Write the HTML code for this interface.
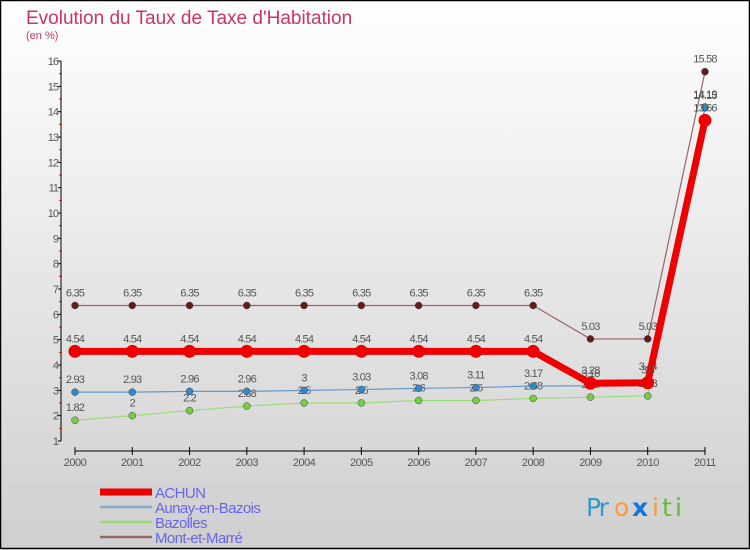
<!DOCTYPE html>
<html><head><meta charset="utf-8">
<style>
html,body{margin:0;padding:0;}
body{width:750px;height:550px;overflow:hidden;font-family:"Liberation Sans",sans-serif;}
svg{display:block;}
</style></head>
<body>
<svg id="chart" width="750" height="550" xmlns="http://www.w3.org/2000/svg">
<defs>
<linearGradient id="bg" x1="0" y1="0" x2="0" y2="1">
<stop offset="0" stop-color="#ffffff"/><stop offset="1" stop-color="#cfcfcf"/>
</linearGradient>
</defs>
<rect x="0.5" y="0.5" width="749" height="548" fill="url(#bg)" stroke="#000" stroke-width="1.5"/>
<text x="26" y="24" font-size="19" fill="#cc3366">Evolution du Taux de Taxe d'Habitation</text>
<text x="26" y="39" font-size="11" fill="#cc3366">(en %)</text>
<g id="axes"></g>
<g id="series"></g>
<g id="legend"></g>
<g font-size="25" font-family="'DejaVu Sans',sans-serif">
<text x="586" y="516" fill="#3399cc" letter-spacing="-2">Pr</text><text x="614" y="516" fill="#ff9933">o</text><text x="632" y="516" fill="#1177dd" font-weight="bold">x</text><text x="652" y="516" fill="#ff9933">i</text><text x="662" y="516" fill="#66bb33">t</text><text x="675" y="516" fill="#66bb33">i</text>
</g>
</svg>
<script>
const years=["2000","2001","2002","2003","2004","2005","2006","2007","2008","2009","2010","2011"];
const yTicks=[1,2,3,4,5,6,7,8,9,10,11,12,13,14,15,16];
const achun=[4.54,4.54,4.54,4.54,4.54,4.54,4.54,4.54,4.54,3.28,3.3,13.66];
const aunay=[2.93,2.93,2.96,2.96,3,3.03,3.08,3.11,3.17,3.18,3.44,14.15];
const bazolles=[1.82,2,2.2,2.38,2.5,2.5,2.6,2.6,2.68,2.73,2.78,14.19];
const mont=[6.35,6.35,6.35,6.35,6.35,6.35,6.35,6.35,6.35,5.03,5.03,15.58];
const seriesNames=["ACHUN","Aunay-en-Bazois","Bazolles","Mont-et-Marré"];

const NS="http://www.w3.org/2000/svg";
const x=i=>75+i*57.27;
const y=v=>441-(v-1)*25.33;
function mk(tag,attrs,parent){const e=document.createElementNS(NS,tag);for(const k in attrs)e.setAttribute(k,attrs[k]);parent.appendChild(e);return e;}
const axes=document.getElementById('axes');
let e=mk('line',{x1:61,y1:y(16),x2:61,y2:y(1),stroke:'#000','stroke-width':1},axes);


yTicks.forEach(t=>{
 let l=mk('line',{x1:58,y1:y(t),x2:61,y2:y(t),stroke:'#000'},axes);
 
 
 if(t<16){
 let h=mk('line',{x1:59,y1:y(t+0.5),x2:62,y2:y(t+0.5),stroke:'#e00'},axes);
 
 }
 let tx=mk('text',{x:58,y:y(t)+4,'text-anchor':'end','font-size':11,fill:'#555','letter-spacing':'-1'},axes);
 tx.textContent=t;
 
 
});
e=mk('line',{x1:x(0),y1:451,x2:x(11),y2:451,stroke:'#000','stroke-width':1},axes);


years.forEach((yr,i)=>{
 let l=mk('line',{x1:x(i),y1:447,x2:x(i),y2:455,stroke:'#000'},axes);
 
 
 let tx=mk('text',{x:x(i),y:466,'text-anchor':'middle','font-size':11,fill:'#555','letter-spacing':'-0.5'},axes);
 tx.textContent=yr;
 
 
});
const sg=document.getElementById('series');
const defs=[
 {d:mont,c:'#996666',m:'#661a1a',w:1.2,r:3.5,n:'mont-et-marre'},
 {d:bazolles,c:'#99dd77',m:'#77cc44',w:1.2,r:3.5,n:'bazolles'},
 {d:aunay,c:'#6699cc',m:'#3388cc',w:1.2,r:3.5,n:'aunay-en-bazois'},
 {d:achun,c:'#ee0000',m:'#ee0000',w:7,r:6.5,n:'achun'}
];
defs.forEach(s=>{
 let p=mk('polyline',{points:s.d.map((v,i)=>x(i)+','+y(v)).join(' '),fill:'none',stroke:s.c,'stroke-width':s.w,'stroke-linejoin':'round'},sg);
 
 
 s.d.forEach((v,i)=>{
  let c=mk('circle',{cx:x(i),cy:y(v),r:s.r,fill:s.m,stroke:'#444','stroke-width':s.r>5?0:0.5},sg);
  
  
  let t=mk('text',{x:x(i),y:y(v)-9,'text-anchor':'middle','font-size':11,fill:'#555','letter-spacing':'-0.8'},sg);
  t.textContent=v;
  
  
 });
});
const lg=document.getElementById('legend');
const lc=['#ee0000','#88aacc','#99dd77','#996666'];
const lw=[7,2.5,2.5,2.5];
seriesNames.forEach((n,i)=>{
 const yy=492+i*15;
 let l=mk('line',{x1:100,y1:yy,x2:152,y2:yy,stroke:lc[i],'stroke-width':lw[i]},lg);
 
 
 let t=mk('text',{x:155,y:yy+6,'font-size':15,fill:'#6666ee','letter-spacing':'-0.6'},lg);
 t.textContent=n;
 
 
});
</script>
</body></html>
